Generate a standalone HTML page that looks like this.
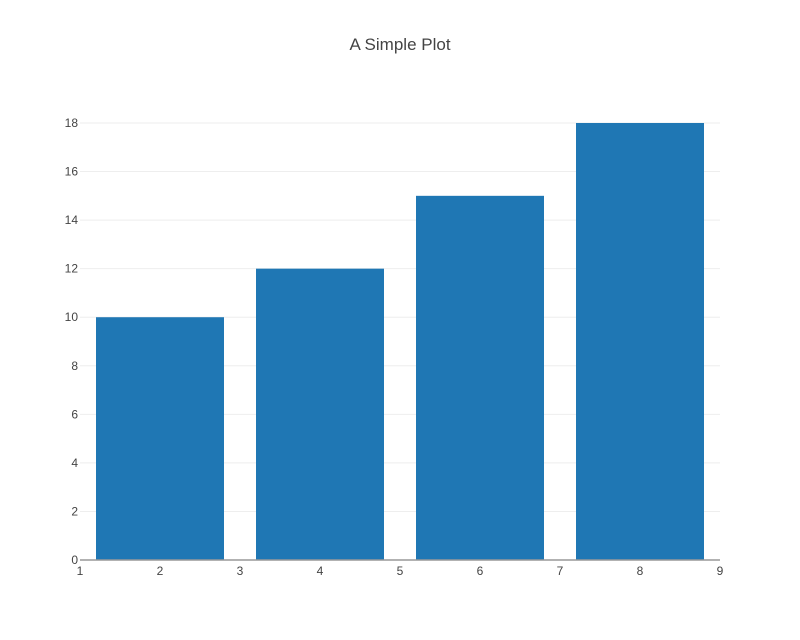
<!DOCTYPE html>
<html><head><meta charset="utf-8"><style>
body{margin:0;background:#fff}
svg{display:block;font-family:"Liberation Sans",sans-serif}
</style></head><body>
<svg id="chart" width="800" height="640">
<text x="400" y="50" text-anchor="middle" font-size="17" fill="#444">A Simple Plot</text>
<g id="grid"></g>
<g id="bars"></g>
<g id="yticks"></g>
<g id="xticks"></g>
</svg>
<script>
const categories = [2, 4, 6, 8];
const values = [10, 12, 15, 18];
const yTickLabels = [0, 2, 4, 6, 8, 10, 12, 14, 16, 18];
const xTickLabels = [1, 2, 3, 4, 5, 6, 7, 8, 9];
const barWidth = 1.6;

const NS = "http://www.w3.org/2000/svg";
const L = 80, R = 720, B = 560, T = 100;
const xMin = 1, xMax = 9, yMin = 0, yMax = 18.947;
const xs = v => L + (v - xMin) / (xMax - xMin) * (R - L);
const ys = v => B - (v - yMin) / (yMax - yMin) * (B - T);
function mk(tag, attrs, parent) {
  const e = document.createElementNS(NS, tag);
  for (const k in attrs) e.setAttribute(k, attrs[k]);
  parent.appendChild(e);
  return e;
}
const grid = document.getElementById('grid');
const yt = document.getElementById('yticks');
yTickLabels.forEach(v => {
  if (v !== 0) {
    const g = mk('line', {x1: L, x2: R, y1: ys(v), y2: ys(v), stroke: '#eee', 'stroke-width': 1}, grid);
    
    
  }
  const t = mk('text', {x: L - 2, y: ys(v) + 4, 'text-anchor': 'end', 'font-size': 12, fill: '#444'}, yt);
  t.textContent = v;
  
  
});
const bars = document.getElementById('bars');
categories.forEach((c, i) => {
  const x0 = xs(c - barWidth / 2), x1 = xs(c + barWidth / 2);
  const r = mk('rect', {x: x0, y: ys(values[i]), width: x1 - x0, height: ys(0) - ys(values[i]), fill: '#1f77b4'}, bars);
  
  
});
const xt = document.getElementById('xticks');
const ax = mk('line', {x1: L, x2: R, y1: B, y2: B, stroke: '#999', 'stroke-width': 1.5}, xt);


xTickLabels.forEach(v => {
  const t = mk('text', {x: xs(v), y: B + 15, 'text-anchor': 'middle', 'font-size': 12, fill: '#444'}, xt);
  t.textContent = v;
  
  
});
</script>
</body></html>
